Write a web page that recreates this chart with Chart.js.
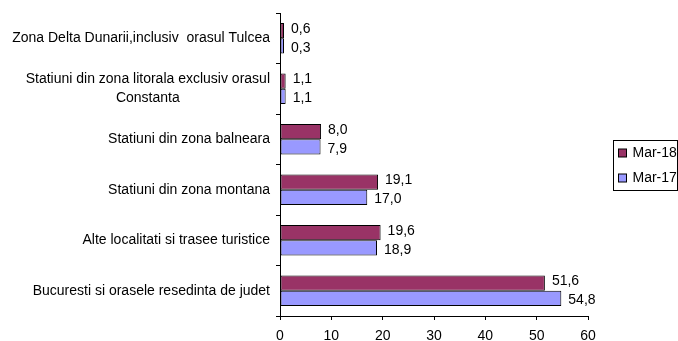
<!DOCTYPE html>
<html>
<head>
<meta charset="utf-8">
<script src="https://cdn.jsdelivr.net/npm/chart.js@4.4.1/dist/chart.umd.min.js"></script>
<style>
  html, body { margin: 0; padding: 0; background: #fff; }
  #wrap { width: 678px; height: 341px; }
</style>
</head>
<body>
<div id="wrap"><canvas id="chart"></canvas></div>
<script>
// category names (second one wraps over two lines)
const categories = [
	["Zona Delta Dunarii,inclusiv  orasul Tulcea"],
	["Statiuni din zona litorala exclusiv orasul", "Constanta"],
	["Statiuni din zona balneara"],
	["Statiuni din zona montana"],
	["Alte localitati si trasee turistice"],
	["Bucuresti si orasele resedinta de judet"],
];
const seriesNames = ["Mar-18", "Mar-17"];
const mar18 = [0.6, 1.1, 8.0, 19.1, 19.6, 51.6];
const mar17 = [0.3, 1.1, 7.9, 17.0, 18.9, 54.8];
const xTicks = [0, 10, 20, 30, 40, 50, 60];

const FONT = '"Liberation Sans", Arial, sans-serif';
const colours = ["#993366", "#9999ff"];

// comma decimal, one place
function fmt(v) {
	return v.toFixed(1).replace(".", ",");
}

// y labels drawn by hand so that wrapped lines are centred on each other
const categoryLabels = {
	id: "categoryLabels",
	afterDraw(chart) {
		const ctx = chart.ctx;
		const y = chart.scales.y;
		const lineH = 19;
		ctx.save();
		ctx.font = "14px " + FONT;
		ctx.fillStyle = "#000";
		ctx.textAlign = "center";
		ctx.textBaseline = "middle";
		chart.data.labels.forEach((lines, i) => {
			const cy = y.getPixelForTick(i);
			const widest = Math.max(...lines.map((l) => ctx.measureText(l).width));
			const cx = y.right - 10 - widest / 2;
			lines.forEach((l, j) => {
				ctx.fillText(l, cx, cy + (j - (lines.length - 1) / 2) * lineH);
			});
		});
		ctx.restore();
	},
};

// value next to the end of every bar
const valueLabels = {
	id: "valueLabels",
	afterDatasetsDraw(chart) {
		const ctx = chart.ctx;
		ctx.save();
		ctx.font = "14px " + FONT;
		ctx.fillStyle = "#000";
		ctx.textAlign = "left";
		ctx.textBaseline = "middle";
		chart.data.datasets.forEach((ds, d) => {
			const dy = d === 0 ? -2 : 2;
			chart.getDatasetMeta(d).data.forEach((bar, i) => {
				ctx.fillText(fmt(ds.data[i]), bar.x + 7, bar.y + dy);
			});
		});
		ctx.restore();
	},
};

// boxed legend on the right
const boxLegend = {
	id: "boxLegend",
	afterDraw(chart) {
		const ctx = chart.ctx;
		const left = chart.chartArea.right + 25.5;
		const right = chart.width - 0.5;
		const top = Math.round((chart.chartArea.top + chart.chartArea.bottom) / 2 - 25);
		ctx.save();
		ctx.strokeStyle = "#000";
		ctx.lineWidth = 1;
		ctx.strokeRect(left, top + 0.5, right - left, 50);
		ctx.font = "14px " + FONT;
		ctx.textBaseline = "middle";
		chart.data.datasets.forEach((ds, i) => {
			const cy = top + 13 + i * 25;
			ctx.fillStyle = ds.backgroundColor;
			ctx.fillRect(left + 5, cy - 4, 8, 8);
			ctx.strokeRect(left + 5, cy - 4, 8, 8);
			ctx.fillStyle = "#000";
			ctx.fillText(ds.label, left + 19, cy);
		});
		ctx.restore();
	},
};

new Chart(document.getElementById("chart"), {
	type: "bar",
	data: {
		labels: categories,
		datasets: [
			{
				label: seriesNames[0],
				data: mar18,
				backgroundColor: colours[0],
				borderColor: "#000",
				borderWidth: 1,
				borderSkipped: false,
				minBarLength: 4,
			},
			{
				label: seriesNames[1],
				data: mar17,
				backgroundColor: colours[1],
				borderColor: "#000",
				borderWidth: 1,
				borderSkipped: false,
				minBarLength: 4,
			},
		],
	},
	options: {
		indexAxis: "y",
		responsive: true,
		maintainAspectRatio: false,
		animation: false,
		categoryPercentage: 0.6,
		barPercentage: 1,
		layout: { padding: { top: 13, right: 90, left: 0, bottom: 0 } },
		scales: {
			x: {
				min: 0,
				max: 60,
				afterBuildTicks: (s) => {
					s.ticks = xTicks.map((v) => ({ value: v }));
				},
				afterFit: (s) => {
					s.height = 25;
				},
				ticks: {
					color: "#000",
					font: { family: FONT, size: 14 },
					padding: 8,
					maxRotation: 0,
				},
				grid: {
					drawOnChartArea: false,
					color: "#000",
					tickLength: 4,
				},
				border: { color: "#000" },
			},
			y: {
				afterFit: (s) => {
					s.width = 280;
				},
				ticks: { display: false },
				grid: {
					drawOnChartArea: false,
					color: "#000",
					tickLength: 4,
				},
				border: { color: "#000" },
			},
		},
		plugins: {
			legend: { display: false },
			tooltip: { enabled: false },
		},
	},
	plugins: [categoryLabels, valueLabels, boxLegend],
});
</script>
</body>
</html>
